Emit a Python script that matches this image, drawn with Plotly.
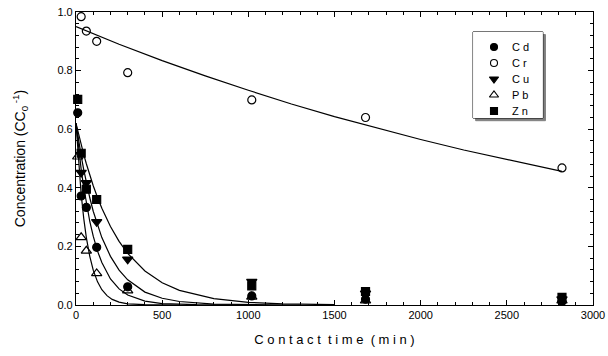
import plotly.graph_objects as go

# measured data (contact time in min, C/C0)
t_cr = [30, 60, 120, 300, 1020, 1680, 2820]
cr = [0.984, 0.935, 0.900, 0.793, 0.700, 0.640, 0.468]

t_cd = [10, 30, 60, 120, 300, 1020, 1680, 2820]
cd = [0.656, 0.372, 0.333, 0.197, 0.062, 0.031, 0.020, 0.012]

t_cu = [30, 60, 120, 300, 1020, 1680, 2820]
cu = [0.452, 0.417, 0.284, 0.156, 0.080, 0.040, 0.020]

t_pb = [10, 30, 60, 120, 300, 1020, 1680, 2820]
pb = [0.506, 0.231, 0.185, 0.108, 0.049, 0.028, 0.015, 0.015]

t_zn = [10, 30, 60, 120, 300, 1020, 1680, 2820]
zn = [0.702, 0.518, 0.395, 0.360, 0.190, 0.065, 0.046, 0.026]

# fitted curves
fit_cr_t = [0, 250, 500, 750, 1000, 1250, 1500, 1750, 2000, 2250, 2500, 2820]
fit_cr = [0.950, 0.890, 0.834, 0.782, 0.733, 0.686, 0.643, 0.603, 0.565, 0.529, 0.496, 0.456]

fit_pb_t = [0, 10, 20, 30, 45, 60, 80, 100, 125, 150, 180, 210, 250, 300, 400, 600]
fit_pb = [0.620, 0.526, 0.446, 0.378, 0.295, 0.230, 0.166, 0.119, 0.079, 0.052, 0.032, 0.019, 0.010, 0.004, 0.001, 0.000]

fit_cd_t = [0, 10, 20, 30, 45, 60, 80, 100, 125, 150, 200, 250, 300, 400, 500, 700, 1000]
fit_cd = [0.620, 0.563, 0.511, 0.463, 0.401, 0.346, 0.285, 0.235, 0.184, 0.145, 0.089, 0.055, 0.034, 0.013, 0.005, 0.001, 0.000]

fit_cu_t = [0, 10, 20, 30, 45, 60, 80, 100, 125, 150, 200, 250, 300, 400, 500, 600, 800, 1000, 1300]
fit_cu = [0.620, 0.580, 0.543, 0.509, 0.461, 0.417, 0.366, 0.320, 0.272, 0.230, 0.166, 0.119, 0.086, 0.044, 0.023, 0.012, 0.003, 0.001, 0.000]

fit_zn_t = [0, 10, 20, 30, 45, 60, 80, 100, 125, 150, 200, 250, 300, 400, 500, 600, 800, 1000, 1200, 1500]
fit_zn = [0.620, 0.595, 0.570, 0.547, 0.513, 0.482, 0.443, 0.407, 0.367, 0.330, 0.268, 0.217, 0.176, 0.116, 0.076, 0.050, 0.022, 0.009, 0.004, 0.001]

x_ticks = [0, 500, 1000, 1500, 2000, 2500, 3000]
y_ticks = [0.0, 0.2, 0.4, 0.6, 0.8, 1.0]
legend_names = ["Cd", "Cr", "Cu", "Pb", "Zn"]

FONT = "Liberation Sans, Arial, sans-serif"

# legend layout (paper fractions)
LEG_X0, LEG_X1 = 0.768, 0.903
LEG_Y0, LEG_Y1 = 0.638, 0.932

fig = go.Figure()

for ft, fy in [(fit_cr_t, fit_cr), (fit_pb_t, fit_pb), (fit_cd_t, fit_cd),
               (fit_cu_t, fit_cu), (fit_zn_t, fit_zn)]:
    fig.add_trace(go.Scatter(x=ft, y=fy, mode="lines",
                             line=dict(color="black", width=1.2),
                             showlegend=False, hoverinfo="skip"))

styles = {
    "Cd": ("circle", 8, "black"),
    "Cr": ("circle-open", 8, "black"),
    "Cu": ("triangle-down", 9, "black"),
    "Pb": ("triangle-up-open", 9, "black"),
    "Zn": ("square", 8, "black"),
}
series = [("Cd", t_cd, cd), ("Cr", t_cr, cr), ("Cu", t_cu, cu),
          ("Pb", t_pb, pb), ("Zn", t_zn, zn)]
for name, tx, vy in series:
    sym, sz, col = styles[name]
    fig.add_trace(go.Scatter(
        x=tx, y=vy, mode="markers", name=name, cliponaxis=False,
        showlegend=False,
        marker=dict(symbol=sym, size=sz, color=col,
                    line=dict(color="black", width=1.2))))

# custom legend drawn on an auxiliary invisible axis pair
n = len(legend_names)
for i, name in enumerate(legend_names):
    sym, sz, col = styles[name]
    fig.add_trace(go.Scatter(
        x=[0.3], y=[i + 1], mode="markers", xaxis="x2", yaxis="y2",
        showlegend=False, hoverinfo="skip", cliponaxis=False,
        marker=dict(symbol=sym, size=sz - 1, color=col,
                    line=dict(color="black", width=1.1))))
    fig.add_annotation(x=0.53, y=i + 1, xref="x2", yref="y2", text=" ".join(name),
                       showarrow=False, xanchor="left", yanchor="middle",
                       font=dict(family=FONT, size=11, color="black"))

# legend box with shadow
fig.add_shape(type="rect", xref="paper", yref="paper",
              x0=LEG_X0 + 0.005, x1=LEG_X1 + 0.005, y0=LEG_Y0 - 0.009, y1=LEG_Y1 - 0.009,
              line=dict(color="#808080", width=1), fillcolor="#808080", layer="below")
fig.add_shape(type="rect", xref="paper", yref="paper",
              x0=LEG_X0, x1=LEG_X1, y0=LEG_Y0, y1=LEG_Y1,
              line=dict(color="black", width=1), fillcolor="white", layer="below")

axis_common = dict(showline=True, linecolor="black", linewidth=1.2,
                   mirror="allticks", ticks="inside", ticklen=5,
                   tickcolor="black", showgrid=False, zeroline=False,
                   automargin=False,
                   tickfont=dict(family=FONT, size=11, color="black"))

xaxis = dict(range=[0, 3000], tickvals=x_ticks,
             ticktext=[str(v) for v in x_ticks],
             minor=dict(dtick=100, ticks="inside", ticklen=3, tickcolor="black"),
             title=dict(text="C o n t a c t  t i m e  ( m i n )",
                        font=dict(family=FONT, size=13, color="black"),
                        standoff=14),
             **axis_common)
yaxis = dict(range=[0, 1.0], tickvals=y_ticks,
             ticktext=[f"{v:.1f}" for v in y_ticks],
             minor=dict(dtick=0.04, ticks="inside", ticklen=3, tickcolor="black"),
             title=dict(text="Concentration (CC<sub>0</sub><sup> -1</sup>)",
                        font=dict(family=FONT, size=14, color="black"),
                        standoff=28),
             **axis_common)

fig.update_layout(
    width=608, height=356,
    margin=dict(l=76, r=15, t=12, b=51),
    plot_bgcolor="white", paper_bgcolor="white",
    showlegend=False,
    xaxis=xaxis, yaxis=yaxis,
    xaxis2=dict(domain=[LEG_X0, LEG_X1], range=[0, 1], anchor="y2",
                visible=False, fixedrange=True),
    yaxis2=dict(domain=[LEG_Y0, LEG_Y1], range=[n + 0.44, 0.06], anchor="x2",
                visible=False, fixedrange=True),
)

fig.write_html("out.html")
